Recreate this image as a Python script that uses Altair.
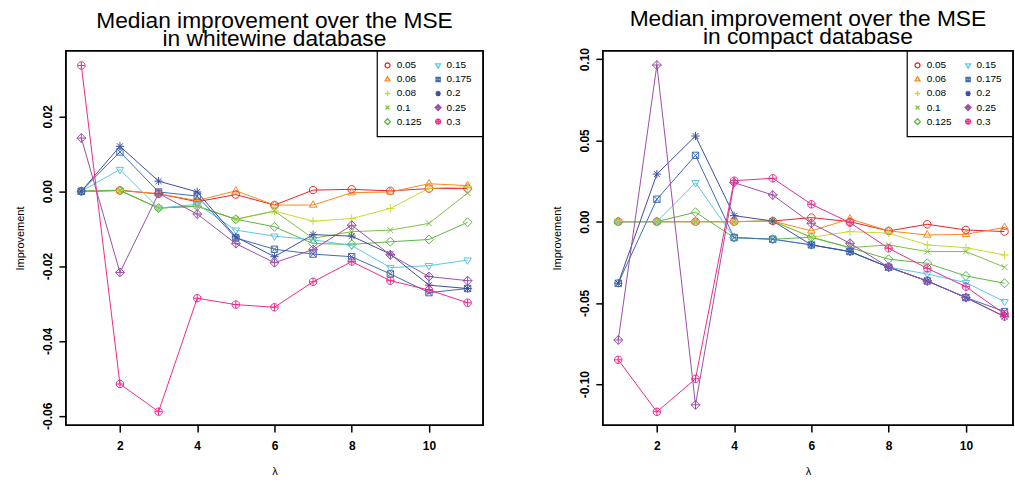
import math
import altair as alt
import pandas as pd

lam = list(range(1, 12))
alphas = ["0.05", "0.06", "0.08", "0.1", "0.125", "0.15", "0.175", "0.2", "0.25", "0.3"]
legend_order = ["0.05", "0.15", "0.06", "0.175", "0.08", "0.2", "0.1", "0.25", "0.125", "0.3"]
colors = ["#E8232A", "#F58A1F", "#C9D92E", "#7DC142", "#5DB646",
          "#5CC6E4", "#3E6CB4", "#3D4EA1", "#9B4FA6", "#EC2A8C"]


def ring(r=1.0, n=20):
    pts = [(r * math.cos(2 * math.pi * i / n), r * math.sin(2 * math.pi * i / n)) for i in range(n)]
    return "M" + "L".join(f"{px:.3f},{py:.3f}" for px, py in pts) + "Z"


circle = ring()
tri_up = "M0,-1.15L1,0.58L-1,0.58Z"
plus = "M-1.1,0L1.1,0M0,-1.1L0,1.1"
cross = "M-0.8,-0.8L0.8,0.8M-0.8,0.8L0.8,-0.8"
diamond = "M0,-1.2L1.2,0L0,1.2L-1.2,0Z"
tri_down = "M0,1.15L1,-0.58L-1,-0.58Z"
sq_x = "M-0.85,-0.85L0.85,-0.85L0.85,0.85L-0.85,0.85ZM-0.85,-0.85L0.85,0.85M-0.85,0.85L0.85,-0.85"
asterisk = plus + cross
diamond_plus = diamond + "M-1.2,0L1.2,0M0,-1.2L0,1.2"
circle_plus = circle + "M-1,0L1,0M0,-1L0,1"
shapes = [circle, tri_up, plus, cross, diamond, tri_down, sq_x, asterisk, diamond_plus, circle_plus]

# whitewine database
ww_005 = [0, 0.0002, -0.0007, -0.0028, -0.0009, -0.0037, 0.0003, 0.0005, 0.0001, 0.0007, 0.0007]
ww_006 = [0, 0.0003, -0.0007, -0.0025, 0.0001, -0.0037, -0.0037, -0.0004, -0.0002, 0.0020, 0.0015]
ww_008 = [0, 0.0002, -0.0045, -0.0040, -0.0075, -0.0053, -0.0080, -0.0073, -0.0046, 0.0008, 0.0012]
ww_010 = [0, 0.0002, -0.0045, -0.0040, -0.0075, -0.0053, -0.0126, -0.0108, -0.0104, -0.0086, -0.0005]
ww_0125 = [0, 0.0002, -0.0045, -0.0040, -0.0075, -0.0095, -0.0140, -0.0142, -0.0135, -0.0129, -0.0083]
ww_015 = [0, 0.0058, -0.0045, -0.0035, -0.0104, -0.0120, -0.0130, -0.0145, -0.0204, -0.0199, -0.0184]
ww_0175 = [0, 0.0105, -0.0002, -0.0013, -0.0125, -0.0155, -0.0168, -0.0175, -0.0221, -0.0271, -0.0260]
ww_020 = [0, 0.0120, 0.0027, -0.0002, -0.0122, -0.0175, -0.0116, -0.0120, -0.0168, -0.0251, -0.0260]
ww_025 = [0.0142, -0.0217, -0.0006, -0.0061, -0.0140, -0.0191, -0.0156, -0.0091, -0.0170, -0.0228, -0.0239]
ww_030 = [0.0336, -0.0515, -0.0589, -0.0286, -0.0303, -0.0310, -0.0242, -0.0188, -0.0239, -0.0264, -0.0298]

# compact database
cp_005 = [0, 0, 0, 0, 0.0004, 0.0025, 0.0000, -0.0057, -0.0016, -0.0051, -0.0061]
cp_006 = [0, 0, 0, 0, 0.0004, -0.0057, 0.0017, -0.0057, -0.0082, -0.0078, -0.0035]
cp_008 = [0, 0, 0, 0, 0.0004, -0.0096, -0.0061, -0.0071, -0.0143, -0.0160, -0.0205]
cp_010 = [0, 0, 0, 0, 0.0004, -0.0096, -0.0160, -0.0143, -0.0184, -0.0184, -0.0280]
cp_0125 = [0, 0, 0.0058, -0.0098, -0.0108, -0.0096, -0.0160, -0.0231, -0.0256, -0.0334, -0.0379]
cp_015 = [0, 0, 0.0240, -0.0098, -0.0108, -0.0143, -0.0184, -0.0280, -0.0322, -0.0375, -0.0492]
cp_0175 = [-0.0379, 0.0138, 0.0408, -0.0098, -0.0108, -0.0143, -0.0184, -0.0280, -0.0365, -0.0467, -0.0553]
cp_020 = [-0.0379, 0.0293, 0.0527, 0.0037, 0.0004, -0.0143, -0.0184, -0.0280, -0.0365, -0.0467, -0.0584]
cp_025 = [-0.0728, 0.0964, -0.1127, 0.0240, 0.0164, -0.0010, -0.0133, -0.0280, -0.0365, -0.0467, -0.0584]
cp_030 = [-0.0850, -0.1170, -0.0967, 0.0252, 0.0267, 0.0107, -0.0006, -0.0164, -0.0287, -0.0400, -0.0568]

white_series = [ww_005, ww_006, ww_008, ww_010, ww_0125, ww_015, ww_0175, ww_020, ww_025, ww_030]
compact_series = [cp_005, cp_006, cp_008, cp_010, cp_0125, cp_015, cp_0175, cp_020, cp_025, cp_030]


def to_frame(series_list):
    rows = []
    for k, (a, vals) in enumerate(zip(alphas, series_list)):
        for l, v in zip(lam, vals):
            rows.append({"alpha": a, "k": k, "lam": l, "v": v})
    return pd.DataFrame(rows)


color_range = [colors[alphas.index(a)] for a in legend_order]
shape_range = [shapes[alphas.index(a)] for a in legend_order]

FONT = "Liberation Sans"
HEIGHT = 375
XMIN = 0.6

# legend layout (pixels inside the plot area)
LEG_W, LEG_H = 106, 86
LEG_ROW0, LEG_ROWSTEP = 14.5, 14.1
LEG_SYM = [10.3, 61.0]
LEG_TXT = [19.5, 69.5]


def legend_frame(width, xmax, ymin, ymax):
    left_px = width - LEG_W
    rows = []
    for i, a in enumerate(legend_order):
        col, row = i % 2, i // 2
        py = LEG_ROW0 + LEG_ROWSTEP * row
        v = ymax - py / HEIGHT * (ymax - ymin)
        sx = XMIN + (left_px + LEG_SYM[col]) / width * (xmax - XMIN)
        tx = XMIN + (left_px + LEG_TXT[col]) / width * (xmax - XMIN)
        rows.append({"alpha": a, "sx": sx, "tx": tx, "v": v})
    return pd.DataFrame(rows)


def panel(df, title_lines, ydomain, yvals, xmax, width):
    base = alt.Chart(df)
    xs = alt.Scale(domain=[XMIN, xmax], nice=False, zero=False)
    ys = alt.Scale(domain=ydomain, nice=False, zero=False)
    x = alt.X("lam:Q", scale=xs,
              axis=alt.Axis(values=[2, 4, 6, 8, 10], title="λ", labelPadding=8,
                            titlePadding=14, format="d"))
    y = alt.Y("v:Q", scale=ys,
              axis=alt.Axis(values=yvals, title="Improvement", labelAngle=270,
                            labelAlign="center", labelBaseline="bottom",
                            labelPadding=4, titlePadding=16,
                            labelExpr="replace(format(datum.value, '.2f'), '\u2212', '-')"))
    cscale = alt.Scale(domain=legend_order, range=color_range)
    sscale = alt.Scale(domain=legend_order, range=shape_range)
    lines = base.mark_line(strokeWidth=1).encode(
        x=x, y=y,
        color=alt.Color("alpha:N", scale=cscale, legend=None),
        order=alt.Order("lam:Q"),
    )
    pts = base.mark_point(filled=False, size=56, strokeWidth=1, opacity=1).encode(
        x=x, y=y,
        color=alt.Color("alpha:N", scale=cscale, legend=None),
        shape=alt.Shape("alpha:N", scale=sscale, legend=None),
    )
    one = pd.DataFrame({"d": [0]})
    leg_box = alt.Chart(one).mark_rect(fill="white", stroke="black", strokeWidth=1.2).encode(
        x=alt.value(width - LEG_W), x2=alt.value(width), y=alt.value(0), y2=alt.value(LEG_H)
    )
    ldf = legend_frame(width, xmax, ydomain[0], ydomain[1])
    leg_pts = alt.Chart(ldf).mark_point(filled=False, size=24, strokeWidth=1.3, opacity=1).encode(
        x=alt.X("sx:Q", scale=xs), y=alt.Y("v:Q", scale=ys),
        color=alt.Color("alpha:N", scale=cscale, legend=None),
        shape=alt.Shape("alpha:N", scale=sscale, legend=None),
    )
    leg_txt = alt.Chart(ldf).mark_text(align="left", baseline="middle", font=FONT,
                                       fontSize=10, color="black").encode(
        x=alt.X("tx:Q", scale=xs), y=alt.Y("v:Q", scale=ys), text="alpha:N"
    )
    frame = alt.Chart(one).mark_rect(fillOpacity=0, stroke="black", strokeWidth=1.5).encode(
        x=alt.value(0), x2=alt.value(width), y=alt.value(0), y2=alt.value(HEIGHT)
    )
    return alt.layer(lines, pts, leg_box, leg_pts, leg_txt, frame).properties(
        width=width, height=HEIGHT,
        title=alt.TitleParams(text=title_lines, font=FONT, fontSize=22.8, fontWeight="normal",
                              color="black", lineHeight=18, anchor="middle", offset=-24,
                              baseline="bottom"),
    )


left = panel(to_frame(white_series),
             ["Median improvement over the MSE", "in whitewine database"],
             [-0.0625, 0.0375], [-0.06, -0.04, -0.02, 0.0, 0.02], 11.4, 418)
right = panel(to_frame(compact_series),
              ["Median improvement over the MSE", "in compact database"],
              [-0.1252, 0.1051], [-0.10, -0.05, 0.0, 0.05, 0.10], 11.22, 411)

chart = alt.hconcat(left, right, spacing=66).resolve_scale(
    color="independent", shape="independent"
).properties(
    padding={"left": 14, "top": 6.5, "right": 0, "bottom": 0},
    background="white",
).configure_view(stroke="black", strokeWidth=1.5).configure_axis(
    domain=False, grid=False, tickColor="black", tickWidth=1.5, tickSize=7,
    labelFont=FONT, labelFontSize=12, labelFontWeight="bold", labelColor="black",
    titleFont=FONT, titleFontSize=11, titleFontWeight="normal", titleColor="black",
)

chart.save("out.html", embed_options={"renderer": "svg", "actions": False})
